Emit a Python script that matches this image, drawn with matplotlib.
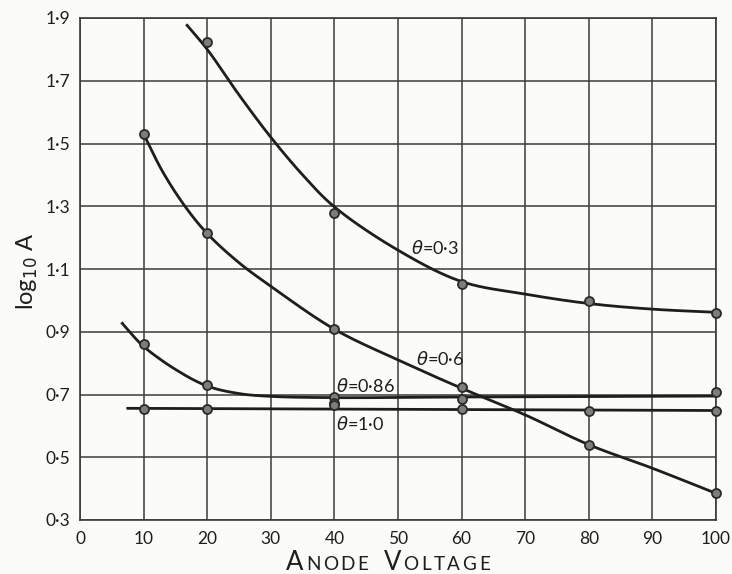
import numpy as np
import matplotlib
matplotlib.use("Agg")
import matplotlib.pyplot as plt
from matplotlib.ticker import FixedLocator, FuncFormatter

plt.rcParams['font.family'] = ['Lato', 'DejaVu Sans']
plt.rcParams['mathtext.fontset'] = 'dejavusans'

# Measured points (anode voltage, log10 A) for each value of theta
v_03 = [20, 40, 60, 80, 100]
a_03 = [1.823, 1.278, 1.052, 0.999, 0.961]

v_06 = [10, 20, 40, 60, 80, 100]
a_06 = [1.530, 1.215, 0.909, 0.725, 0.538, 0.385]

v_086 = [10, 20, 40, 60, 100]
a_086 = [0.861, 0.729, 0.691, 0.687, 0.709]

v_10 = [10, 20, 40, 40, 60, 80, 100]
a_10 = [0.655, 0.655, 0.672, 0.665, 0.653, 0.647, 0.647]

# Hand-fitted smooth curves drawn through the measurements
fit_v_03 = [16.7, 20, 25, 30, 35, 40, 50, 60, 70, 80, 90, 100]
fit_a_03 = [1.88, 1.80, 1.655, 1.52, 1.40, 1.298, 1.16, 1.06, 1.02, 0.99, 0.972, 0.962]

fit_v_06 = [10, 13, 16.5, 20, 25, 30, 40, 50, 60, 70, 80, 90, 100]
fit_a_06 = [1.53, 1.41, 1.30, 1.213, 1.12, 1.045, 0.908, 0.81, 0.72, 0.635, 0.54, 0.465, 0.385]

fit_v_086 = [6.5, 8, 10, 15, 20, 25, 30, 40, 60, 100]
fit_a_086 = [0.93, 0.895, 0.853, 0.78, 0.727, 0.703, 0.694, 0.69, 0.692, 0.695]

fit_v_10 = [7.3, 100]
fit_a_10 = [0.656, 0.649]

x_ticks = [0, 10, 20, 30, 40, 50, 60, 70, 80, 90, 100]
y_ticks = [0.3, 0.5, 0.7, 0.9, 1.1, 1.3, 1.5, 1.7, 1.9]

labels = [r"$\theta$=0·3", r"$\theta$=0·6", r"$\theta$=0·86", r"$\theta$=1·0"]
label_pos = [(52.0, 1.167), (52.8, 0.812), (40.3, 0.728), (40.3, 0.607)]

INK = "#1e1e1e"
GRID = "#3a3a3a"
PAPER = "#fbfbf8"

X_SPAN, Y_SPAN = 100.0, 1.6
X_PX, Y_PX = 636.0, 502.0


def smooth_path(xs, ys, n=30):
    """Centripetal Catmull-Rom path through the vertices, evaluated in
    screen-proportional units so the curve has no kinks."""
    p = np.column_stack([np.asarray(xs, float) / X_SPAN * X_PX,
                         np.asarray(ys, float) / Y_SPAN * Y_PX])
    if len(p) < 3:
        return np.asarray(xs, float), np.asarray(ys, float)
    ext = np.vstack([2 * p[0] - p[1], p, 2 * p[-1] - p[-2]])
    out = []
    for i in range(1, len(ext) - 2):
        P0, P1, P2, P3 = ext[i - 1], ext[i], ext[i + 1], ext[i + 2]
        t0 = 0.0
        t1 = t0 + np.linalg.norm(P1 - P0) ** 0.5
        t2 = t1 + np.linalg.norm(P2 - P1) ** 0.5
        t3 = t2 + np.linalg.norm(P3 - P2) ** 0.5
        t = np.linspace(t1, t2, n, endpoint=False)[:, None]
        A1 = (t1 - t) / (t1 - t0) * P0 + (t - t0) / (t1 - t0) * P1
        A2 = (t2 - t) / (t2 - t1) * P1 + (t - t1) / (t2 - t1) * P2
        A3 = (t3 - t) / (t3 - t2) * P2 + (t - t2) / (t3 - t2) * P3
        B1 = (t2 - t) / (t2 - t0) * A1 + (t - t0) / (t2 - t0) * A2
        B2 = (t3 - t) / (t3 - t1) * A2 + (t - t1) / (t3 - t1) * A3
        C = (t2 - t) / (t2 - t1) * B1 + (t - t1) / (t2 - t1) * B2
        out.append(C)
    out.append(p[-1][None, :])
    out = np.vstack(out)
    return out[:, 0] / X_PX * X_SPAN, out[:, 1] / Y_PX * Y_SPAN


W, H = 732, 574
fig = plt.figure(figsize=(W / 100, H / 100), dpi=100, facecolor=PAPER)
ax = fig.add_axes([80 / W, 1 - 520 / H, (716 - 80) / W, (520 - 18) / H])
ax.set_facecolor(PAPER)
ax.set_xlim(0, 100)
ax.set_ylim(0.3, 1.9)

ax.xaxis.set_major_locator(FixedLocator(x_ticks))
ax.yaxis.set_major_locator(FixedLocator(y_ticks))
ax.xaxis.set_major_formatter(FuncFormatter(lambda v, _: f"{v:g}"))
ax.yaxis.set_major_formatter(FuncFormatter(lambda v, _: f"{v:.1f}".replace(".", "·")))
ax.tick_params(length=0, labelsize=12.5, colors=INK)
ax.tick_params(axis="x", pad=8)
ax.tick_params(axis="y", pad=7)
ax.grid(True, color=GRID, lw=1.1)
for s in ax.spines.values():
    s.set_color(GRID)
    s.set_linewidth(1.2)

for fv, fa in [(fit_v_03, fit_a_03), (fit_v_06, fit_a_06),
               (fit_v_086, fit_a_086), (fit_v_10, fit_a_10)]:
    cx, cy = smooth_path(fv, fa)
    ax.plot(cx, cy, color=INK, lw=2.0, solid_capstyle="butt", zorder=3)

for v, a in [(v_03, a_03), (v_06, a_06), (v_086, a_086), (v_10, a_10)]:
    ax.plot(v, a, "o", ms=6.5, mfc="#7d7d7d", mec="#2a2a2a", mew=1.3,
            ls="none", zorder=4, clip_on=False)

for txt, (x, y) in zip(labels, label_pos):
    ax.text(x, y, txt, fontsize=13, color=INK, ha="left", va="center", zorder=5)

# y-axis title
fig.text(27 / W, 1 - 271 / H, r"log$_{10}$ A", rotation=90, fontsize=17,
         color=INK, ha="center", va="center")

# x-axis title in small capitals
fig.canvas.draw()
renderer = fig.canvas.get_renderer()
parts = [("A", 18.5), ("N", 13.6), ("O", 13.6), ("D", 13.6), ("E", 13.6), (" ", 0),
         ("V", 18.5), ("O", 13.6), ("L", 13.6), ("T", 13.6), ("A", 13.6), ("G", 13.6), ("E", 13.6)]
x_px = 286.0
base_px = 570.0
gap = 2.5
for ch, size in parts:
    if ch == " ":
        x_px += 13
        continue
    t = fig.text(x_px / W, 1 - base_px / H, ch, fontsize=size, color=INK,
                 ha="left", va="baseline")
    bb = t.get_window_extent(renderer)
    x_px += bb.width + gap

fig.savefig("out.png", dpi=100, facecolor=PAPER)
